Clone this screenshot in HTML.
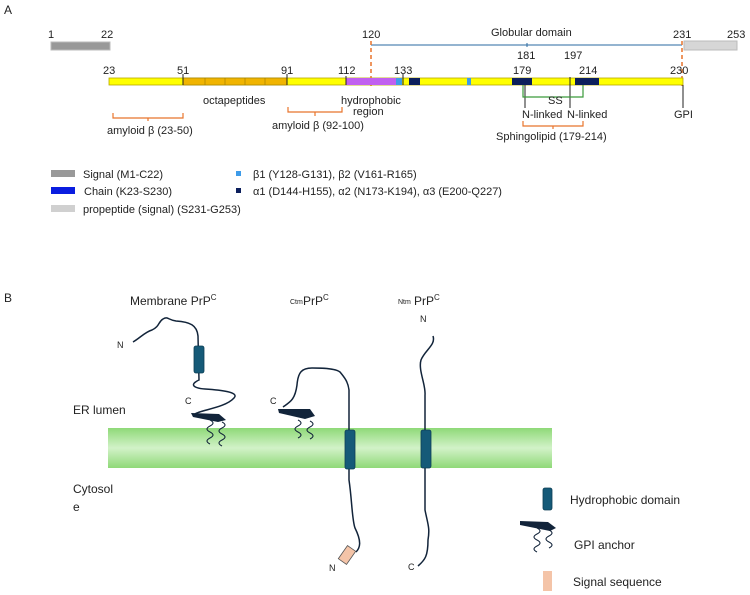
<!DOCTYPE html>
<html><head><meta charset="utf-8"><style>
body{margin:0;background:#fff}
svg{display:block;font-family:"Liberation Sans",sans-serif}
</style></head><body>
<svg width="750" height="595" viewBox="0 0 750 595" xmlns="http://www.w3.org/2000/svg">
<defs>
<linearGradient id="mem" x1="0" y1="0" x2="0" y2="1">
<stop offset="0" stop-color="#8fd978"/><stop offset="0.5" stop-color="#d2f2c8"/><stop offset="1" stop-color="#8fd978"/>
</linearGradient>
</defs>
<g font-size="11" fill="#222">
<text x="4" y="14" font-size="12">A</text>
<text x="48" y="38">1</text><text x="101" y="38">22</text>
<rect x="51" y="42" width="59" height="8" fill="#999" stroke="#bbb"/>
<text x="362" y="38">120</text>
<text x="491" y="36">Globular domain</text>
<text x="673" y="38">231</text><text x="727" y="38">253</text>
<rect x="684" y="41" width="53" height="9" fill="#d6d6d6" stroke="#bbb"/>
<line x1="371" y1="45" x2="682" y2="45" stroke="#2a6aa0"/>
<line x1="527" y1="43" x2="527" y2="47" stroke="#2a6aa0"/>
<line x1="371" y1="41" x2="371" y2="86" stroke="#e8742c" stroke-dasharray="4,3" stroke-width="1.5"/>
<line x1="682" y1="41" x2="682" y2="86" stroke="#e8742c" stroke-dasharray="4,3" stroke-width="1.5"/>
<text x="517" y="59">181</text><text x="564" y="59">197</text>
<text x="103" y="74">23</text><text x="177" y="74">51</text><text x="281" y="74">91</text><text x="338" y="74">112</text>
<text x="394" y="74">133</text><text x="513" y="74">179</text><text x="579" y="74">214</text><text x="670" y="74">230</text>
<rect x="109" y="78" width="574" height="7" fill="#ffff00" stroke="#b8a800" stroke-width="0.8"/>
<rect x="183" y="78" width="104" height="7" fill="#f0b400" stroke="#9a7a00" stroke-width="0.6"/>
<g stroke="#9a7a00" stroke-width="0.6"><line x1="205" y1="78" x2="205" y2="85"/><line x1="225" y1="78" x2="225" y2="85"/><line x1="245" y1="78" x2="245" y2="85"/><line x1="265" y1="78" x2="265" y2="85"/></g>
<rect x="346" y="78" width="50" height="7" fill="#c060f0"/>
<rect x="396" y="78" width="6" height="7" fill="#3d9be9"/>
<rect x="409" y="78" width="11" height="7" fill="#0c1f5c"/>
<rect x="467" y="78" width="4" height="7" fill="#3d9be9"/>
<rect x="512" y="78" width="20" height="7" fill="#0c1f5c"/>
<rect x="575" y="78" width="24" height="7" fill="#0c1f5c"/>
<g stroke="#222" stroke-width="1">
<line x1="183" y1="74" x2="183" y2="85"/><line x1="287" y1="74" x2="287" y2="85"/><line x1="346" y1="76" x2="346" y2="85"/>
<line x1="403" y1="74" x2="403" y2="85"/>
<line x1="525" y1="85" x2="525" y2="108"/><line x1="570" y1="77" x2="570" y2="108"/>
<line x1="683" y1="85" x2="683" y2="108"/>
</g>
<polyline points="523,85 523,97 583,97 583,85" fill="none" stroke="#3a9a3a" stroke-width="1.2"/>
<text x="548" y="104">SS</text>
<text x="522" y="118">N-linked</text><text x="567" y="118">N-linked</text>
<text x="674" y="118">GPI</text>
<path d="M523,121 v5 h60 v-5 M553,126 v3" fill="none" stroke="#e8742c" stroke-width="1.2"/>
<text x="496" y="140">Sphingolipid (179-214)</text>
<text x="203" y="104">octapeptides</text>
<text x="341" y="104">hydrophobic</text><text x="353" y="115">region</text>
<path d="M113,113 v5 h70 v-5 M148,118 v3" fill="none" stroke="#e8742c" stroke-width="1.2"/>
<text x="107" y="134">amyloid β (23-50)</text>
<path d="M288,107 v5 h54 v-5 M315,112 v4" fill="none" stroke="#e8742c" stroke-width="1.2"/>
<text x="272" y="129">amyloid β (92-100)</text>
<rect x="51" y="170" width="24" height="7" fill="#999"/><text x="83" y="178">Signal (M1-C22)</text>
<rect x="51" y="187" width="24" height="7" fill="#0a1de0"/><text x="84" y="195">Chain (K23-S230)</text>
<rect x="51" y="205" width="24" height="7" fill="#d0d0d0"/><text x="83" y="213">propeptide (signal) (S231-G253)</text>
<rect x="236" y="171" width="5" height="5" fill="#3d9be9"/><text x="253" y="178">β1 (Y128-G131), β2 (V161-R165)</text>
<rect x="236" y="188" width="5" height="5" fill="#0c1f5c"/><text x="253" y="195">α1 (D144-H155), α2 (N173-K194), α3 (E200-Q227)</text>

<text x="4" y="302" font-size="12">B</text>
<text x="130" y="305" font-size="12">Membrane PrP<tspan font-size="8" dy="-5">C</tspan></text>
<text x="290" y="304" font-size="7">Ctm</text><text x="303" y="305" font-size="12">PrP<tspan font-size="8" dy="-5">C</tspan></text>
<text x="398" y="304" font-size="7">Ntm</text><text x="414" y="305" font-size="12">PrP<tspan font-size="8" dy="-5">C</tspan></text>
<text x="73" y="414" font-size="12">ER lumen</text>
<text x="73" y="493" font-size="12">Cytosol</text><text x="73" y="511" font-size="12">e</text>
<rect x="108" y="428" width="444" height="40" fill="url(#mem)"/>
<text x="117" y="348" font-size="9">N</text>
<text x="185" y="404" font-size="9">C</text>
<text x="270" y="404" font-size="9">C</text>
<text x="329" y="571" font-size="9">N</text>
<text x="420" y="322" font-size="9">N</text>
<text x="408" y="570" font-size="9">C</text>
</g>
<g fill="none" stroke="#12243a" stroke-width="1.5">
<path d="M133,342 C140,338 145,332 152,330 C160,326 158,322 163,319 C168,316 168,320 176,321 C190,322 197,325 198,336 L199,380 C190,384 192,388 205,389 C220,390 240,392 234,398 C225,408 200,410 195,414"/>
<path d="M283,407 C290,402 295,400 297,385 C298,372 302,368 312,368 C320,368 335,368 340,372 C345,378 348,382 349,390 L349,480 C352,500 352,520 355,528 C362,542 360,548 356,552"/>
<path d="M433,336 C436,345 425,350 421,360 C418,370 426,385 425,395 L425,510 C428,525 430,528 428,540 C428,556 425,560 418,566"/>
</g>
<g fill="#12243a">
<path d="M191,413 L219,414 L226,420 L218,422 L193,417 Z"/>
<path d="M278,409 L310,409 L315,416 L305,419 L279,413 Z"/>
<path d="M520,521 L548,522 L556,528 L550,531 L520,525 Z"/>
</g>
<g fill="none" stroke="#12243a" stroke-width="1.1">
<path d="M210,420 q6,3 0,6 q-6,3 0,6 q6,3 0,6 q-6,3 0,6"/>
<path d="M222,422 q6,3 0,6 q-6,3 0,6 q6,3 0,6 q-6,3 0,6"/>
<path d="M298,420 q6,3 0,6 q-6,3 0,6 q6,3 0,6"/>
<path d="M310,421 q6,3 0,6 q-6,3 0,6 q6,3 0,6"/>
<path d="M537,528 q6,3 0,6 q-6,3 0,6 q6,3 0,6 q-6,3 0,6"/>
<path d="M549,530 q6,3 0,6 q-6,3 0,6 q6,3 0,6"/>
</g>
<g fill="#155a78" stroke="#0e3f55" stroke-width="0.8">
<rect x="194" y="346" width="10" height="27" rx="2"/>
<rect x="345" y="430" width="10" height="39" rx="2"/>
<rect x="421" y="430" width="10" height="38" rx="2"/>
<rect x="543" y="488" width="9" height="22" rx="2"/>
</g>
<rect x="342" y="547" width="10" height="16" fill="#f4c4a8" stroke="#555" stroke-width="0.8" transform="rotate(35 347 555)"/>
<rect x="543" y="571" width="9" height="20" fill="#f4c4a8"/>
<g font-size="12" fill="#222">
<text x="570" y="504">Hydrophobic domain</text>
<text x="574" y="549">GPI anchor</text>
<text x="573" y="586">Signal sequence</text>
</g>
</svg>
</body></html>
